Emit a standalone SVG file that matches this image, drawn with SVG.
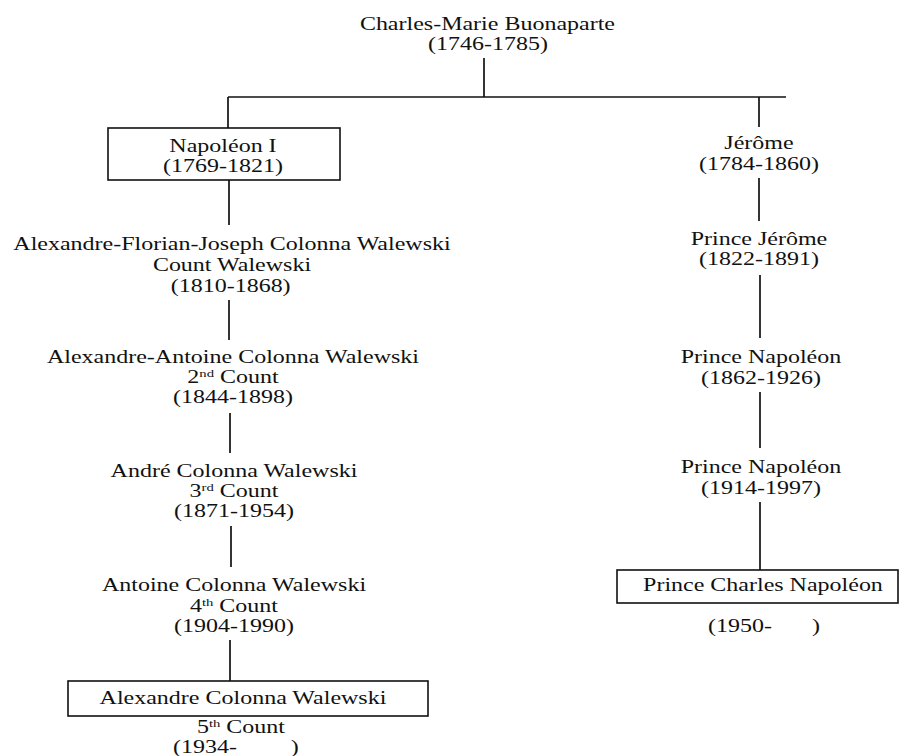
<svg xmlns="http://www.w3.org/2000/svg" width="902" height="756" viewBox="0 0 902 756">
<style>
  text { font-family: "Liberation Serif", "Times New Roman", serif; font-size: 18px; fill: #111; text-anchor: middle; }
  .sup { font-size: 11px; }
  .ln { stroke: #111; stroke-width: 1.7; fill: none; }
  .box { stroke: #111; stroke-width: 1.6; fill: #fff; }
</style>
<rect width="902" height="756" fill="#fff"/>
<g id="connectors">
  <line class="ln" x1="484" y1="58" x2="484" y2="97"/>
  <line class="ln" x1="228" y1="97" x2="786" y2="97"/>
  <line class="ln" x1="228" y1="97" x2="228" y2="128"/>
  <line class="ln" x1="759" y1="97" x2="759" y2="127"/>
  <line class="ln" x1="229" y1="180" x2="229" y2="225"/>
  <line class="ln" x1="229" y1="300" x2="229" y2="340"/>
  <line class="ln" x1="230" y1="413" x2="230" y2="453"/>
  <line class="ln" x1="231" y1="526" x2="231" y2="567"/>
  <line class="ln" x1="230" y1="640" x2="230" y2="681"/>
  <line class="ln" x1="759" y1="178" x2="759" y2="221"/>
  <line class="ln" x1="760" y1="275" x2="760" y2="338"/>
  <line class="ln" x1="760" y1="392" x2="760" y2="448"/>
  <line class="ln" x1="760" y1="502" x2="760" y2="570"/>
</g>
<g id="n-charles-marie" transform="scale(1.3333,1)">
  <text x="365.6" y="30">Charles-Marie Buonaparte</text>
  <text x="366" y="50">(1746-1785)</text>
</g>
<g id="n-napoleon1">
  <rect class="box" x="108" y="128" width="232" height="52"/>
  <g transform="scale(1.3333,1)">
    <text x="167.25" y="152">Napoléon I</text>
    <text x="167.25" y="172">(1769-1821)</text>
  </g>
</g>
<g id="n-alexandre-florian" transform="scale(1.3333,1)">
  <text x="174" y="250">Alexandre-Florian-Joseph Colonna Walewski</text>
  <text x="174" y="271">Count Walewski</text>
  <text x="173" y="292">(1810-1868)</text>
</g>
<g id="n-alexandre-antoine" transform="scale(1.3333,1)">
  <text x="174.75" y="363">Alexandre-Antoine Colonna Walewski</text>
  <text x="174.75" y="383">2<tspan class="sup" dy="-6">nd</tspan><tspan dy="6"> Count</tspan></text>
  <text x="174.75" y="403">(1844-1898)</text>
</g>
<g id="n-andre" transform="scale(1.3333,1)">
  <text x="175.5" y="477">André Colonna Walewski</text>
  <text x="175.5" y="497">3<tspan class="sup" dy="-6">rd</tspan><tspan dy="6"> Count</tspan></text>
  <text x="175.5" y="517">(1871-1954)</text>
</g>
<g id="n-antoine" transform="scale(1.3333,1)">
  <text x="175.5" y="591">Antoine Colonna Walewski</text>
  <text x="175.5" y="612">4<tspan class="sup" dy="-6">th</tspan><tspan dy="6"> Count</tspan></text>
  <text x="175.5" y="632">(1904-1990)</text>
</g>
<g id="n-alexandre">
  <rect class="box" x="68" y="681" width="360" height="35"/>
  <g transform="scale(1.3333,1)">
    <text x="182.25" y="704">Alexandre Colonna Walewski</text>
    <text x="180.75" y="733">5<tspan class="sup" dy="-6">th</tspan><tspan dy="6"> Count</tspan></text>
    <text style="text-anchor:start" x="129.75" y="753">(1934-<tspan x="218">)</tspan></text>
  </g>
</g>
<g id="n-jerome" transform="scale(1.3333,1)">
  <text x="569.25" y="149">Jérôme</text>
  <text x="569.25" y="170">(1784-1860)</text>
</g>
<g id="n-prince-jerome" transform="scale(1.3333,1)">
  <text x="569.25" y="245">Prince Jérôme</text>
  <text x="569.25" y="265">(1822-1891)</text>
</g>
<g id="n-prince-napoleon-1862" transform="scale(1.3333,1)">
  <text x="570.75" y="363">Prince Napoléon</text>
  <text x="570.75" y="384">(1862-1926)</text>
</g>
<g id="n-prince-napoleon-1914" transform="scale(1.3333,1)">
  <text x="570.75" y="473">Prince Napoléon</text>
  <text x="570.75" y="494">(1914-1997)</text>
</g>
<g id="n-prince-charles">
  <rect class="box" x="617" y="570" width="281" height="33"/>
  <g transform="scale(1.3333,1)">
    <text x="572.25" y="591">Prince Charles Napoléon</text>
    <text style="text-anchor:start" x="531" y="632">(1950-<tspan x="609">)</tspan></text>
  </g>
</g>
</svg>
